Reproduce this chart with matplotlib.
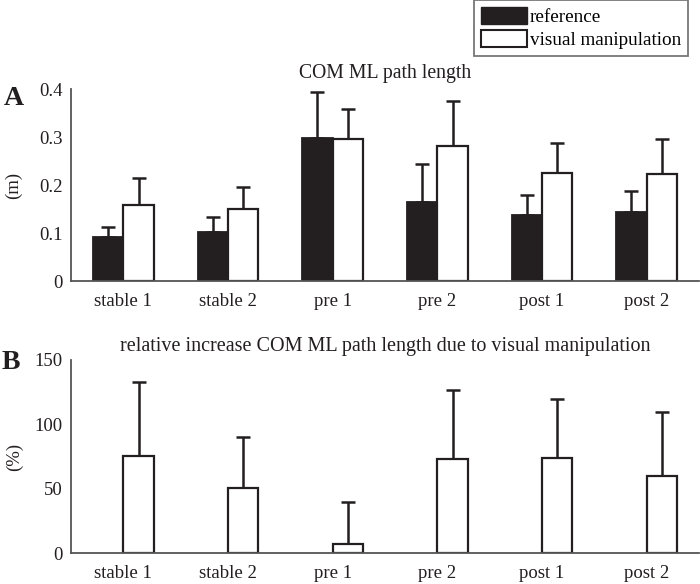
import matplotlib
matplotlib.use("Agg")
import matplotlib.pyplot as plt
import numpy as np
from matplotlib.patches import Patch

conditions = ["stable 1", "stable 2", "pre 1", "pre 2", "post 1", "post 2"]
ref_mean = [0.092, 0.103, 0.297, 0.165, 0.137, 0.143]
ref_sd = [0.020, 0.030, 0.097, 0.079, 0.042, 0.044]
vis_mean = [0.158, 0.149, 0.295, 0.281, 0.226, 0.222]
vis_sd = [0.057, 0.046, 0.063, 0.093, 0.062, 0.074]
rel_mean = [75.5, 50.8, 6.7, 72.9, 73.5, 59.5]
rel_sd = [57.7, 39.4, 33.3, 54.1, 46.5, 50.0]

a_ticks = [0, 0.1, 0.2, 0.3, 0.4]
a_ticklabels = ["0", "0.1", "0.2", "0.3", "0.4"]
b_ticks = [0, 50, 100, 150]
b_ticklabels = ["0", "50", "100", "150"]

plt.rcParams["font.family"] = ["Liberation Serif", "DejaVu Serif"]
dark = "#231f20"
spine_c = "#555555"
fs = 13.5

fig = plt.figure(figsize=(7.0, 5.84), dpi=100)
W, H = 700, 584
def rect(l, r, top, bot):
    return [l / W, 1 - bot / H, (r - l) / W, (bot - top) / H]

axA = fig.add_axes(rect(71, 699, 89, 281))
axB = fig.add_axes(rect(71, 699, 360, 553))

x = np.arange(1, len(conditions) + 1)
bw = 0.29

def style(ax):
    for s in ["top", "right"]:
        ax.spines[s].set_visible(False)
    for s in ["left", "bottom"]:
        ax.spines[s].set_color(spine_c)
        ax.spines[s].set_linewidth(1.3)
    ax.tick_params(length=0, labelsize=fs, colors=dark)
    ax.tick_params(axis="x", pad=9)
    ax.tick_params(axis="y", pad=6)
    ax.set_xlim(0.5, 6.5)
    ax.set_xticks(x)
    ax.set_xticklabels(conditions)

# Panel A
axA.bar(x - bw / 2, ref_mean, bw, color=dark, edgecolor=dark, linewidth=1.3, zorder=2)
axA.bar(x + bw / 2, vis_mean, bw, color="white", edgecolor=dark, linewidth=1.6, zorder=2)
axA.errorbar(x - bw / 2, ref_mean, yerr=[np.zeros(6), ref_sd], fmt="none",
             ecolor=dark, elinewidth=1.8, capsize=5, capthick=1.8, zorder=1)
axA.errorbar(x + bw / 2, vis_mean, yerr=[np.zeros(6), vis_sd], fmt="none",
             ecolor=dark, elinewidth=1.8, capsize=5, capthick=1.8, zorder=1)
style(axA)
axA.set_ylim(0, 0.4)
axA.set_yticks(a_ticks)
axA.set_yticklabels(a_ticklabels)
axA.set_ylabel("(m)", fontsize=fs, color=dark, labelpad=12)

# Panel B
axB.bar(x + bw / 2, rel_mean, bw, color="white", edgecolor=dark, linewidth=1.6, zorder=2)
axB.errorbar(x + bw / 2, rel_mean, yerr=[np.zeros(6), rel_sd], fmt="none",
             ecolor=dark, elinewidth=1.8, capsize=5, capthick=1.8, zorder=1)
style(axB)
axB.set_ylim(0, 150)
axB.set_yticks(b_ticks)
axB.set_yticklabels(b_ticklabels)
axB.set_ylabel("(%)", fontsize=fs, color=dark, labelpad=8)

fig.text(385 / W, 1 - 78 / H, "COM ML path length", fontsize=14.2, color=dark,
         ha="center", va="baseline")
fig.text(385 / W, 1 - 351 / H,
         "relative increase COM ML path length due to visual manipulation",
         fontsize=14.5, color=dark, ha="center", va="baseline")

fig.text(4 / W, 1 - 105 / H, "A", fontsize=20, fontweight="bold", color=dark, va="baseline")
fig.text(2 / W, 1 - 369 / H, "B", fontsize=20, fontweight="bold", color=dark, va="baseline")

handles = [Patch(facecolor=dark, edgecolor=dark, label="reference"),
           Patch(facecolor="white", edgecolor=dark, linewidth=1.5, label="visual manipulation")]
leg = fig.legend(handles=handles, loc="upper right", bbox_to_anchor=(688 / W, 1.0),
                 fontsize=13.8, frameon=True, fancybox=False, handlelength=2.4,
                 handleheight=1.0, handletextpad=0.15, labelspacing=0.2,
                 borderpad=0.35, borderaxespad=0.0)
leg.get_frame().set_edgecolor(spine_c)
leg.get_frame().set_linewidth(1.3)

fig.savefig("out.png", dpi=100)
